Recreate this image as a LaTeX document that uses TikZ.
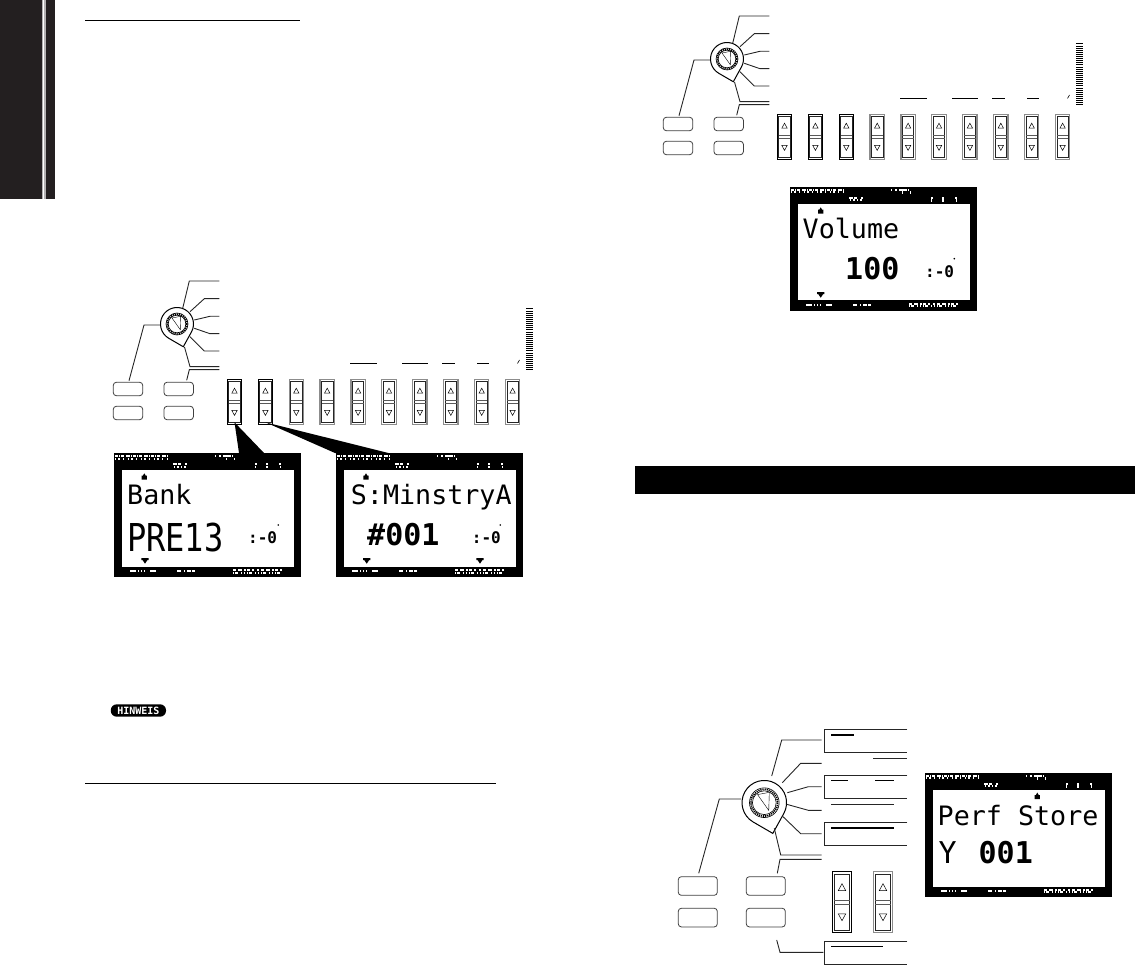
\documentclass[tikz,border=0pt]{standalone}
\usepackage{xcolor}
\usepackage{fontspec}
\usetikzlibrary{positioning, calc}
\newfontfamily\lcdfont{DejaVu Sans Mono}
\definecolor{tabblack}{HTML}{231F20}
\definecolor{keygrey}{HTML}{8C8C8C}
\tikzset{
  wire/.style={draw=black!85, line width=0.9pt},
  rulewire/.style={draw=black, line width=1.2pt},
  panelbutton/.style={draw=black!75, line width=0.8pt, rounded corners=3pt, fill=white},
  lcdbig/.style={font=\lcdfont\fontsize{26.7}{27}\selectfont, inner sep=0pt, anchor=base west},
  lcdvalue/.style={font=\lcdfont\bfseries\fontsize{30}{30}\selectfont, inner sep=0pt, anchor=base west},
  lcdthin/.style={font=\lcdfont\fontsize{32}{32}\selectfont, inner sep=0pt, anchor=base west, yscale=1.2},
  lcdsmall/.style={font=\lcdfont\bfseries\fontsize{16}{16}\selectfont, inner sep=0pt, anchor=base west},
  lcdglyph/.style={draw=white, line width=2.1pt},
  pics/dialknob/.style={code={
    % teardrop body, tip towards the lower right
    \draw[line width=1pt, fill=white] (74.5:23.6) -- (28.9:16.5)
      arc[start angle=28.9, end angle=-239.9, radius=16.5] -- cycle;
    \draw[line width=0.6pt] (0,0) circle[radius=11];
    \draw[line width=0.6pt] (0,0) circle[radius=8.8];
    \draw[line width=1.7pt, dash pattern=on 1.2pt off 0.9pt] (0,0) circle[radius=9.9];
    \draw[line width=0.4pt] (-5,-6) -- (3.7,-7.7) -- (3.3,5.7) -- cycle;
  }},
  pics/sliderkey/.style={code={
    \node[draw=#1, line width=1.2pt, minimum width=14.3pt, minimum height=45pt,
          inner sep=0pt, fill=white, transform shape] (box) at (0,0) {};
    \draw[line width=0.8pt, draw=black!85] (-5.7,-20.8) rectangle (5.7,20.8);
    \draw[line width=0.7pt, draw=black!65] (-5.7,-1.3) -- (5.7,-1.3) (-5.7,1.3) -- (5.7,1.3);
    \draw[line width=0.5pt] (0,-13.6) -- (2.7,-8.6) -- (-2.7,-8.6) -- cycle;
    \draw[line width=0.5pt] (0,13.6) -- (2.7,8.6) -- (-2.7,8.6) -- cycle;
  }},
  pics/lcdscreen/.style={code={
    \node[fill=black, minimum width=186.7pt, minimum height=124pt, inner sep=0pt,
          anchor=north west] (frame) at (0,0) {};
    \fill[white] (7.6,17) rectangle (180.3,113.8);
    % status rows, too small to read
    \draw[lcdglyph, dash pattern=on 3pt off 1pt on 1pt off 1pt on 3pt off 2pt on 4pt off 1pt on 1pt off 1pt]
      (1,3) -- (54,3);
    \draw[lcdglyph, dash pattern=on 1pt off 2pt on 2pt off 3pt on 1pt off 4pt] (1,5.6) -- (54,5.6);
    \draw[lcdglyph, dash pattern=on 4pt off 1pt on 3pt off 4pt on 2pt off 2pt] (59,11) -- (73,11);
    \draw[lcdglyph, dash pattern=on 1pt off 2pt on 2pt off 2pt] (60,13.6) -- (73,13.6);
    \draw[lcdglyph, dash pattern=on 1pt off 3pt on 2pt off 2pt on 8pt off 1pt] (101,3.4) -- (121,3.4);
    \draw[lcdglyph, dash pattern=on 1pt off 7pt on 1pt off 3pt] (112,5.8) -- (121,5.8);
    \draw[lcdglyph, dash pattern=on 2pt off 9pt on 2pt off 11pt] (141,11.4) -- (168,11.4);
    \draw[lcdglyph, dash pattern=on 1pt off 10pt on 2pt off 12pt] (141,13.8) -- (168,13.8);
    \draw[lcdglyph, dash pattern=on 6pt off 2pt on 1pt off 2pt on 1pt off 2pt on 1pt off 5pt] (16,118) -- (43,118);
    \draw[lcdglyph, dash pattern=on 4pt off 3pt on 1pt off 2pt on 4pt off 1pt] (63,118) -- (81,118);
    \draw[lcdglyph, dash pattern=on 3pt off 2pt on 4pt off 2pt on 2pt off 1pt on 3pt off 2pt on 2pt off 3pt on 2pt off 2pt] (119,117) -- (169,117);
    \draw[lcdglyph, dash pattern=on 1pt off 1pt on 3pt off 3pt on 1pt off 2pt on 1pt off 2pt] (119,119.6) -- (169,119.6);
  }},
  % pointer that marks a column of the screen
  pics/lcdup/.style={code={\fill (-2.6,3) rectangle (2.6,-1) (-1.4,-1) -- (1.4,-1) -- (0,-3.4) -- cycle;}},
  pics/lcddown/.style={code={\fill (-3.6,-2.6) rectangle (3.6,-0.6) (-2.4,-0.6) -- (2.4,-0.6) -- (0,3) -- cycle;}},
  pics/frontpanel/.style={code={
    \pic at (0,0) {dialknob};
    \coordinate (tip) at (7.5,23);
    \draw[wire] (5.7,-15.7) -- (12.3,-43) -- (42.3,-43);
    \draw[wire] (13,-12.3) -- (27.3,-25.3) -- (42.3,-25.3);
    \draw[wire] (17.3,-4) -- (33,-7.7) -- (42.3,-7.7);
    \draw[wire] (17.3,4.3) -- (33,9.7) -- (42.3,9.7);
    \draw[wire] (13,12.7) -- (27.3,27) -- (42.3,27);
    \draw[wire] (tip) -- (13,42.7) -- (42.3,42.7);
    \draw[wire] (9.7,56.3) -- (12.3,45.7) -- (42.3,45.7);
    \draw[wire] (-17,1) -- (-33,1) -- (-48,56.7);
    \foreach \bx in {-63.7,-13} {
      \foreach \by in {58.3,82.3} {
        \draw[panelbutton] (\bx,\by) rectangle ++(29.4,13.4);
      }
    }
    \foreach \ruley in {-15,-12.9,...,47} {
      \draw[line width=1pt] (349.3,\ruley) -- (356,\ruley);
    }
    \draw[line width=1.3pt] (173,39.7) -- (199.7,39.7) (225,39.7) -- (251,39.7)
      (265,39.7) -- (278,39.7) (300,39.7) -- (312,39.7);
    \draw[line width=0.6pt] (340.5,39.5) -- (342.5,36);
  }}
}
\begin{document}
\begin{tikzpicture}[x=1pt, y=-1pt]
  \useasboundingbox (0,0) rectangle (1135,965);

  % side tab and rules
  \fill[tabblack] (0,0) rectangle (55,199);
  \fill[white] (42.3,0) rectangle (43.8,199) (44.4,0) rectangle (45.7,199);
  \draw[rulewire] (85,20.5) -- (300,20.5);
  \draw[rulewire] (85,783.5) -- (496,783.5);
  \node[fill=black, minimum width=500pt, minimum height=28pt, inner sep=0pt,
        anchor=north west] (titleband) at (635,466) {};

  % first panel
  \pic at (177,324) {frontpanel};
  \foreach \i in {0,...,9} {
    \ifnum\i<2 \def\keycolor{black}\else\def\keycolor{keygrey}\fi
    \pic (ka\i) at ({234.5+\i*30.9},401.8) {sliderkey=\keycolor};
  }
  \begin{scope}[shift={(114,453)}]
    \pic (lcdbank) at (0,0) {lcdscreen};
    \pic at (30.3,23.7) {lcdup};
    \pic at (31,107.7) {lcddown};
    \node[lcdbig] (banktext) at (13,51.3) {Bank};
    \node[lcdthin] (prestext) at (13,98.7) {PRE13};
    \node[lcdsmall] (bankpan) at (134,90.3) {:-0};
    \fill (164.3,72) circle[radius=0.9];
  \end{scope}
  \begin{scope}[shift={(336,453)}]
    \pic (lcdvoice) at (0,0) {lcdscreen};
    \pic at (30,23.7) {lcdup};
    \pic at (30.7,107.7) {lcddown};
    \pic at (144,107.7) {lcddown};
    \node[lcdbig] (voicetext) at (14.7,51.3) {S:MinstryA};
    \node[lcdvalue] (numbertext) at (31,92) {\#001};
    \node[lcdsmall] (voicepan) at (135.7,90.3) {:-0};
    \fill (164.3,72) circle[radius=0.9];
  \end{scope}
  \fill (ka0box.south) ++(0,-2.6) -- ([xshift=125pt]lcdbankframe.north west)
    -- ([xshift=150pt]lcdbankframe.north west) -- cycle;
  \fill (ka1box.south) ++(0,-2.6) -- ([xshift=-1pt]lcdvoiceframe.north west)
    -- ([xshift=52.3pt]lcdvoiceframe.north west) -- cycle;

  % second panel
  \pic at (727,59) {frontpanel};
  \foreach \i in {0,...,9} {
    \ifnum\i<3 \def\keycolor{black}\else\def\keycolor{keygrey}\fi
    \pic (kb\i) at ({784.5+\i*30.9},136.8) {sliderkey=\keycolor};
  }
  \begin{scope}[shift={(790,186.7)}]
    \pic (lcdvolume) at (0,0) {lcdscreen};
    \pic at (30.7,24) {lcdup};
    \pic at (30.7,108) {lcddown};
    \node[lcdbig] (volumetext) at (12.5,51.6) {Volume};
    \node[lcdvalue] (volumevalue) at (55,92.6) {100};
    \node[lcdsmall] (volumepan) at (135,90.6) {:-0};
    \fill (164.3,72) circle[radius=0.9];
  \end{scope}

  % note mark
  \node[fill=black, text=white, font=\lcdfont\bfseries\fontsize{10}{10}\selectfont,
        minimum width=55.3pt, minimum height=12.4pt, inner sep=0pt,
        rounded corners=6pt] (notemark) at (138.4,710.5) {HINWEIS};

  % third panel
  \pic[scale=1.35] at (764.3,802.7) {dialknob};
  \draw[wire] (771.7,776) -- (781.7,740) -- (821.7,740);
  \draw[wire] (782.3,782.7) -- (800.7,763.3) -- (821.7,763.3);
  \draw[wire] (787.3,792.7) -- (808.3,786.7) -- (821.7,786.7);
  \draw[wire] (786.7,804.3) -- (808.3,810.3) -- (821.7,810.3);
  \draw[wire] (782.3,816) -- (800.7,833.7) -- (821.7,833.7);
  \draw[wire] (774.3,828.3) -- (780.7,855) -- (821.7,855);
  \draw[wire] (777.3,873.3) -- (780,859.3) -- (821.7,859.3);
  \draw[wire] (741,799) -- (719.3,799) -- (698.7,873.3);
  \draw[wire] (776.7,940) -- (780,952.3) -- (823.3,952.3);
  \foreach \bx in {678.3,746.3} {
    \foreach \by in {876.7,908.3} {
      \draw[panelbutton] (\bx,\by) rectangle ++(39,18.6);
    }
  }
  \pic[scale=1.36] (kc0) at (842,902.2) {sliderkey=black};
  \pic[scale=1.36] (kc1) at (883,902.2) {sliderkey=keygrey};

  % open boxes, cut off on the right
  \foreach \boxtop in {729,775,822.3,941} {
    \draw[wire] (907.3,\boxtop) -- (824.3,\boxtop) -- (824.3,\boxtop+23.3) -- (907.3,\boxtop+23.3);
  }
  \draw[line width=1.3pt] (831,735) -- (854,735) (831,780.7) -- (848.3,780.7) (875,780.7) -- (894,780.7)
    (831,828) -- (894,828) (831,946.7) -- (882.7,946.7);
  \draw[wire] (873.3,758.3) -- (907.3,758.3) (831,804.3) -- (894,804.3);

  \begin{scope}[shift={(925,772.7)}]
    \pic (lcdstore) at (0,0) {lcdscreen};
    \pic at (112.3,23.3) {lcdup};
    \node[lcdbig] (storetext) at (12.5,52.3) {Perf Store};
    \node[lcdvalue] (storevalue) at (13.3,90.6) {{\mdseries Y}\hspace{4pt} 001};
  \end{scope}
\end{tikzpicture}
\end{document}
